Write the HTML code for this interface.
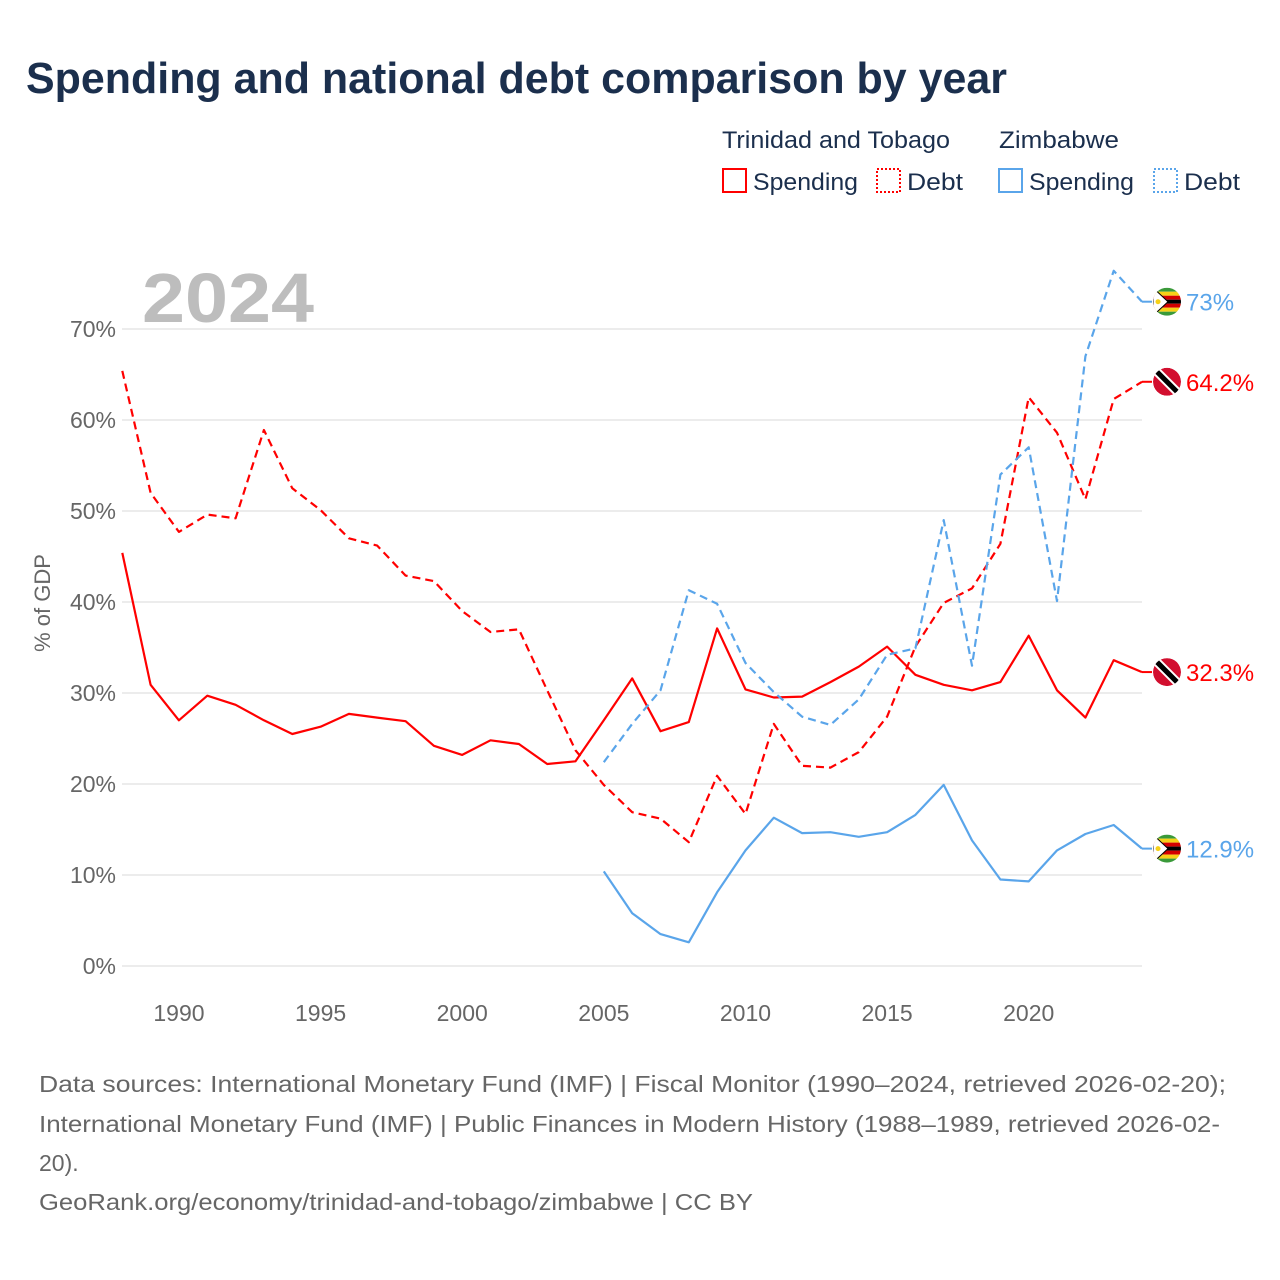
<!DOCTYPE html>
<html><head><meta charset="utf-8"><style>
body{margin:0;background:#fff;}
svg{display:block;font-family:"Liberation Sans",sans-serif;}
</style></head><body>
<svg id="chart" width="1280" height="1280" viewBox="0 0 1280 1280">
<text x="26" y="93" font-size="44" font-weight="bold" fill="#1b2f4d" textLength="981" lengthAdjust="spacingAndGlyphs">Spending and national debt comparison by year</text>
<g font-size="24" fill="#1b2f4d">
<text x="722" y="148" textLength="228" lengthAdjust="spacingAndGlyphs">Trinidad and Tobago</text>
<text x="999" y="148" textLength="120" lengthAdjust="spacingAndGlyphs">Zimbabwe</text>
<g><rect x="723" y="169" width="23" height="23" fill="none" stroke="#f00" stroke-width="2"/><text x="753" y="190" textLength="105" lengthAdjust="spacingAndGlyphs">Spending</text></g>
<g><rect x="877" y="169" width="23" height="23" fill="none" stroke="#f00" stroke-width="2" stroke-dasharray="2 2"/><text x="907" y="190" textLength="56" lengthAdjust="spacingAndGlyphs">Debt</text></g>
<g><rect x="999" y="169" width="23" height="23" fill="none" stroke="#5aa5ea" stroke-width="2"/><text x="1029" y="190" textLength="105" lengthAdjust="spacingAndGlyphs">Spending</text></g>
<g><rect x="1154" y="169" width="23" height="23" fill="none" stroke="#5aa5ea" stroke-width="2" stroke-dasharray="2 2"/><text x="1184" y="190" textLength="56" lengthAdjust="spacingAndGlyphs">Debt</text></g>
</g>
<text x="142" y="322" font-size="70" font-weight="bold" fill="#bdbdbd" textLength="172" lengthAdjust="spacingAndGlyphs">2024</text>
<defs id="defs"></defs>
<g id="grid"></g>
<g id="series"></g>
<g id="labels"></g>
<text transform="translate(50,603) rotate(-90)" text-anchor="middle" font-size="22" fill="#666">% of GDP</text>
<g font-size="23" fill="#666">
<text x="39" y="1092" textLength="1187" lengthAdjust="spacingAndGlyphs">Data sources: International Monetary Fund (IMF) | Fiscal Monitor (1990–2024, retrieved 2026-02-20);</text>
<text x="39" y="1132" textLength="1181" lengthAdjust="spacingAndGlyphs">International Monetary Fund (IMF) | Public Finances in Modern History (1988–1989, retrieved 2026-02-</text>
<text x="39" y="1171">20).</text>
<text x="39" y="1210" textLength="714" lengthAdjust="spacingAndGlyphs">GeoRank.org/economy/trinidad-and-tobago/zimbabwe | CC BY</text>
</g>
</svg>
<script>
const yTicks = [0,10,20,30,40,50,60,70];
const xTicks = [1990,1995,2000,2005,2010,2015,2020];
const ttYears = [1988,1989,1990,1991,1992,1993,1994,1995,1996,1997,1998,1999,2000,2001,2002,2003,2004,2005,2006,2007,2008,2009,2010,2011,2012,2013,2014,2015,2016,2017,2018,2019,2020,2021,2022,2023,2024];
const ttSpending = [45.4,30.9,27.0,29.7,28.7,27.0,25.5,26.3,27.7,27.3,26.9,24.2,23.2,24.8,24.4,22.2,22.5,27.0,31.6,25.8,26.8,37.1,30.4,29.5,29.6,31.2,32.9,35.1,32.0,30.9,30.3,31.2,36.3,30.3,27.3,33.6,32.3];
const ttDebt = [65.4,52.0,47.7,49.6,49.2,58.9,52.5,50.1,47.0,46.2,42.9,42.3,39.0,36.7,37.0,30.3,23.7,19.9,16.9,16.2,13.6,20.9,16.7,26.6,22.0,21.8,23.5,27.4,35.1,39.9,41.5,46.4,62.5,58.6,51.3,62.3,64.2];
const zwYears = [2005,2006,2007,2008,2009,2010,2011,2012,2013,2014,2015,2016,2017,2018,2019,2020,2021,2022,2023,2024];
const zwSpending = [10.4,5.8,3.5,2.6,8.1,12.7,16.3,14.6,14.7,14.2,14.7,16.6,19.9,13.8,9.5,9.3,12.7,14.5,15.5,12.9];
const zwDebt = [22.4,26.6,30.3,41.3,39.8,33.3,30.1,27.4,26.5,29.3,34.2,34.9,49.0,33.0,54.0,57.0,40.1,67.0,76.4,73.0];

const NS="http://www.w3.org/2000/svg";
const x = yr => 122.3 + (yr-1988)*(1142-122.3)/36;
const y = v => 966 - v*9.1;
function mk(tag, attrs, parent){const e=document.createElementNS(NS,tag);for(const k in attrs)e.setAttribute(k,attrs[k]);parent.appendChild(e);return e;}
const grid=document.getElementById('grid');
yTicks.forEach(t=>{
  const l=mk('line',{x1:122,x2:1142,y1:y(t),y2:y(t),stroke:'#e6e6e6','stroke-width':1.5},grid);
  
  
  const tx=mk('text',{x:116,y:y(t)+8,'text-anchor':'end','font-size':23,fill:'#666'},grid);
  tx.textContent=t+'%';
  
  
});
xTicks.forEach(t=>{
  const tx=mk('text',{x:x(t),y:1021,'text-anchor':'middle','font-size':23,fill:'#666'},grid);
  tx.textContent=t;
  
  
});
const series=document.getElementById('series');
function line(years, vals, color, dash, name){
  const d=years.map((yr,i)=>(i?'L':'M')+x(yr).toFixed(1)+' '+y(vals[i]).toFixed(1)).join(' ');
  const p=mk('path',{d:d,fill:'none',stroke:color,'stroke-width':2.2,'stroke-linejoin':'round'},series);
  if(dash)p.setAttribute('stroke-dasharray','8 5');
  
  
}
line(ttYears,ttSpending,'#ff0000',false,'tt-spending-line');
line(ttYears,ttDebt,'#ff0000',true,'tt-debt-line');
line(zwYears,zwSpending,'#5aa5ea',false,'zw-spending-line');
line(zwYears,zwDebt,'#5aa5ea',true,'zw-debt-line');
const labels=document.getElementById('labels');
const defs=document.getElementById('defs');
let clipN=0;
function endLabel(v, color, flag, name){
  const cy=y(v), cx=1167;
  const g=mk('g',{},labels);
  
  
  mk('line',{x1:1142,x2:1152,y1:cy,y2:cy,stroke:color,'stroke-width':2},g);
  const id='clip'+(clipN++);
  const cp=mk('clipPath',{id:id},defs);
  mk('circle',{cx:cx,cy:cy,r:14},cp);
  const fg=mk('g',{'clip-path':'url(#'+id+')'},g);
  if(flag==='tt'){
    mk('circle',{cx:cx,cy:cy,r:14,fill:'#d20f2f'},fg);
    mk('line',{x1:cx-12,y1:cy-12,x2:cx+12,y2:cy+12,stroke:'#fff','stroke-width':9},fg);
    mk('line',{x1:cx-12,y1:cy-12,x2:cx+12,y2:cy+12,stroke:'#000','stroke-width':5},fg);
  } else {
    const cols=['#3a9a3a','#f7d117','#d40000','#000','#d40000','#f7d117','#3a9a3a'];
    cols.forEach((c,i)=>mk('rect',{x:cx-14,y:cy-14+i*4,width:28,height:4,fill:c},fg));
    mk('path',{d:`M${cx-14} ${cy-14} L${cx+1} ${cy} L${cx-14} ${cy+14}Z`,fill:'#fff',stroke:'#000','stroke-width':1},fg);
    mk('circle',{cx:cx-9,cy:cy,r:2.5,fill:'#f7d117'},fg);
  }
  const t=mk('text',{x:1186,y:cy+9,'font-size':24,fill:color},g);
  t.textContent=(Math.round(v*10)/10)+'%';
}
endLabel(zwDebt[zwDebt.length-1],'#5aa5ea','zw','zw-debt-end-label');
endLabel(ttDebt[ttDebt.length-1],'#ff0000','tt','tt-debt-end-label');
endLabel(ttSpending[ttSpending.length-1],'#ff0000','tt','tt-spending-end-label');
endLabel(zwSpending[zwSpending.length-1],'#5aa5ea','zw','zw-spending-end-label');
</script>
</body></html>
